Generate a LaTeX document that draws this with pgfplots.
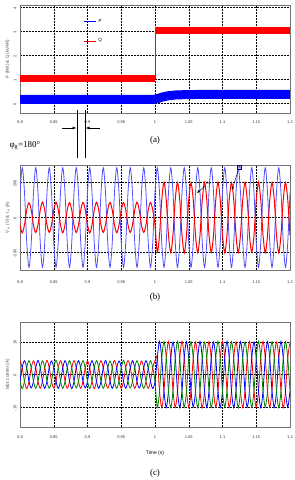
\documentclass[border=0pt]{standalone}
\usepackage{pgfplots}
\pgfplotsset{compat=1.18}
\usepackage{pgfplotstable}
\usepackage{fontspec}
\setmainfont{Liberation Serif}
\newfontfamily\sansf{Liberation Sans}
\usetikzlibrary{arrows.meta}
\definecolor{vblue}{RGB}{80,80,255}
\definecolor{pgreen}{RGB}{0,130,0}

% k: sample index (t = 0.8 + k/300 s)
\pgfplotstableread{
k v i ia ib ic
0 142.5 -43 4.2 -2.1 -2.1
1 285 -88 2.1 2.3 -4.3
2 142.5 -41 -2.2 4.2 -2.0
3 -142.5 45 -4.3 2.0 2.2
4 -285 84 -2.1 -2.2 4.2
5 -142.5 43 2.2 -4.1 2.0
6 142.5 -45 4.1 -2.1 -2.2
7 285 -86 2.0 2.1 -4.2
8 142.5 -42 -2.1 4.3 -2.1
9 -142.5 43 -4.2 2.1 2.0
10 -285 88 -2.0 -2.1 4.1
11 -142.5 41 2.1 -4.2 2.2
12 142.5 -43 4.3 -2.0 -2.1
13 285 -85 2.1 2.1 -4.2
14 142.5 -44 -2.1 4.1 -2.1
15 -142.5 42 -4.1 2.2 2.1
16 -285 87 -2.2 -2.1 4.3
17 -142.5 44 2.1 -4.2 2.1
18 142.5 -42 4.2 -2.1 -2.0
19 285 -87 2.2 2.0 -4.2
20 142.5 -43 -2.0 4.2 -2.2
21 -142.5 44 -4.2 2.1 2.1
22 -285 85 -2.1 -2.0 4.2
23 -142.5 42 2.0 -4.3 2.1
24 142.5 -44 4.2 -2.2 -2.1
25 285 -86 2.1 2.1 -4.1
26 142.5 -43 -2.2 4.2 -2.1
27 -142.5 43 -4.2 2.0 2.2
28 -285 86 -2.1 -2.1 4.2
29 -142.5 45 2.1 -4.1 2.0
30 142.5 -41 4.1 -2.1 -2.1
31 285 -88 2.1 2.2 -4.3
32 142.5 -43 -2.1 4.2 -2.0
33 -142.5 42 -4.3 2.1 2.1
34 -285 87 -2.0 -2.1 4.2
35 -142.5 43 2.2 -4.2 2.1
36 142.5 -44 4.2 -2.1 -2.1
37 285 -85 2.1 2.0 -4.2
38 142.5 -42 -2.1 4.3 -2.2
39 -142.5 44 -4.1 2.1 2.0
40 -285 86 -2.2 -2.0 4.1
41 -142.5 42 2.1 -4.2 2.1
42 142.5 -43 4.3 -2.1 -2.1
43 285 -87 2.0 2.1 -4.2
44 142.5 -44 -2.1 4.1 -2.0
45 -142.5 43 -4.2 2.2 2.1
46 -285 85 -2.1 -2.1 4.3
47 -142.5 44 2.1 -4.2 2.2
48 142.5 -42 4.2 -2.0 -2.1
49 285 -86 2.2 2.1 -4.1
50 142.5 -43 -2.0 4.2 -2.1
51 -142.5 42 -4.2 2.1 2.1
52 -285 88 -2.1 -2.2 4.2
53 -142.5 43 2.0 -4.1 2.0
54 142.5 -45 4.1 -2.1 -2.2
55 285 -85 2.1 2.1 -4.2
56 142.5 -42 -2.2 4.2 -2.1
57 -142.5 44 -4.2 2.0 2.1
58 -285 86 -2.1 -2.1 4.2
59 -142.5 43 2.1 -4.3 2.1
60 142.5 -43 4.2 -2.1 -2.1
61 285 -198 5.1 4.9 -10.0
62 142.5 -102 -5.0 10.1 -5.1
63 -142.5 99 -10.1 5.0 5.0
64 -285 201 -4.9 -5.1 10.0
65 -142.5 100 5.0 -10.0 5.1
66 142.5 -101 10.0 -4.9 -5.0
67 285 -199 5.1 5.0 -10.1
68 142.5 -98 -5.0 9.9 -5.0
69 -142.5 102 -10.0 5.1 4.9
70 -285 200 -5.1 -5.0 10.1
71 -142.5 99 4.9 -10.1 5.0
72 142.5 -100 10.1 -5.0 -5.1
73 285 -202 5.0 5.1 -9.9
74 142.5 -99 -4.9 10.0 -5.0
75 -142.5 101 -10.0 4.9 5.1
76 -285 198 -5.0 -5.0 10.0
77 -142.5 100 5.1 -9.9 4.9
78 142.5 -102 9.9 -5.1 -5.0
79 285 -200 5.0 5.0 -10.1
80 142.5 -100 -5.1 10.1 -5.0
81 -142.5 99 -10.1 5.0 5.0
82 -285 201 -5.0 -4.9 9.9
83 -142.5 101 5.0 -10.0 5.1
84 142.5 -99 10.0 -5.0 -4.9
85 285 -199 4.9 5.1 -10.0
86 142.5 -101 -5.0 9.9 -5.1
87 -142.5 100 -9.9 5.0 5.0
88 -285 202 -5.1 -5.1 10.1
89 -142.5 98 5.0 -10.0 5.0
90 142.5 -100 10.1 -4.9 -5.1
91 285 -201 5.0 5.0 -9.9
92 142.5 -99 -4.9 10.1 -5.0
93 -142.5 102 -10.0 5.1 4.9
94 -285 199 -5.0 -5.0 10.0
95 -142.5 100 5.1 -10.1 5.0
96 142.5 -101 9.9 -5.0 -5.0
97 285 -200 5.0 4.9 -10.1
98 142.5 -98 -5.1 10.0 -5.0
99 -142.5 101 -10.1 5.0 5.1
100 -285 200 -4.9 -5.1 9.9
101 -142.5 99 5.0 -9.9 5.0
102 142.5 -102 10.0 -5.0 -5.1
103 285 -198 5.1 5.1 -10.0
104 142.5 -100 -5.0 9.9 -4.9
105 -142.5 100 -9.9 5.0 5.0
106 -285 202 -5.0 -4.9 10.1
107 -142.5 101 4.9 -10.1 5.1
108 142.5 -99 10.1 -5.1 -5.0
109 285 -201 5.0 5.0 -9.9
110 142.5 -101 -5.1 10.0 -5.0
111 -142.5 98 -10.0 4.9 5.0
112 -285 199 -4.9 -5.0 10.0
113 -142.5 102 5.0 -10.0 5.1
114 142.5 -100 9.9 -5.1 -4.9
115 285 -200 5.1 5.0 -10.1
116 142.5 -99 -5.0 10.1 -5.0
117 -142.5 101 -10.1 5.0 4.9
118 -285 200 -5.0 -5.1 10.0
119 -142.5 100 5.0 -9.9 5.0
120 142.5 -101 10.0 -5.0 -5.0
}\wave

\pgfplotsset{
  panel/.style={
    scale only axis, width=270bp, anchor=south west,
    axis line style={black!55, line width=0.9bp},
    grid=major,
    grid style={black, line width=0.35bp, dash pattern=on 1.5bp off 1.5bp},
    tick label style={font=\sansf\fontsize{4}{4}\selectfont, black!80},
    /pgf/number format/assume math mode=true,
    yticklabel style={rotate=90, anchor=south, xshift=-1bp},
    ylabel style={font=\sansf\fontsize{4.5}{5}\selectfont, black!70},
    major tick length=0bp,
    xticklabels={0.8,0.85,0.9,0.95,1,1.05,1.1,1.15,1.2},
  }
}

\begin{document}
\begin{tikzpicture}
\useasboundingbox (0,0) rectangle (295bp,480bp);

% ---------- (a) ----------
\begin{axis}[panel, at={(20bp,367bp)}, height=108bp,
  xmin=0.8, xmax=1.2, xtick={0.8,0.85,0.9,0.95,1,1.05,1.1,1.15,1.2},
  xticklabel style={yshift=-4bp},
  ymin=-0.42, ymax=4.08, ytick={0,1,2,3,4},
  ylabel={P (kW) \& Q (kVAR)}, ylabel style={yshift=-3bp},
  legend style={draw=none, fill=none, at={(0.235,0.89)}, anchor=north west,
    font=\sansf\fontsize{4.5}{5}\selectfont, row sep=11bp, inner sep=0pt},
]
\addlegendimage{legend image code/.code={\draw[blue, line width=0.7bp] (0bp,0bp) -- (12bp,0bp);}}
\addlegendentry{P}
\addlegendimage{legend image code/.code={\draw[red, line width=0.7bp] (0bp,0bp) -- (12bp,0bp);}}
\addlegendentry{Q}
\addplot[red, line width=7bp, forget plot] coordinates {(0.8,1.0) (1.0,1.0)};
\addplot[red, line width=7bp, forget plot] coordinates {(1.0,3.0) (1.2,3.0)};
\addplot[red, line width=0.5bp, forget plot] coordinates {(1.0,1.0) (1.0,3.0)};
\addplot[blue, line width=9bp, forget plot] coordinates {(0.8,0.15) (1.0,0.15) (1.005,0.19) (1.01,0.24) (1.02,0.3) (1.03,0.33) (1.05,0.35) (1.2,0.36)};
\end{axis}

% ---------- (b) ----------
\begin{axis}[panel, at={(20bp,210bp)}, height=105bp,
  xmin=0, xmax=120, xtick={0,15,...,120},
  xticklabel style={yshift=-7bp},
  ymin=-300, ymax=300, ytick={-200,0,200},
  ylabel={V$_{s}$ (V) \& I$_{s}$ (A)}, ylabel style={yshift=-3bp},
]
\addplot[vblue, line width=0.8bp, smooth] table[x=k, y=v] {\wave};
\addplot[red, line width=1bp, smooth] table[x=k, y=i] {\wave};
\end{axis}

% ---------- (c) ----------
\begin{axis}[panel, at={(20bp,53bp)}, height=105bp,
  xmin=0, xmax=120, xtick={0,15,...,120},
  xticklabel style={yshift=-5bp},
  ymin=-16, ymax=16, ytick={-10,0,10},
  ylabel={Iabc current (A)}, ylabel style={yshift=-3bp},
]
\addplot[red, line width=0.8bp, smooth] table[x=k, y=ia] {\wave};
\addplot[blue, line width=0.8bp, smooth] table[x=k, y=ib] {\wave};
\addplot[pgreen, line width=0.8bp, smooth] table[x=k, y=ic] {\wave};
\end{axis}

% annotations
\draw[line width=0.6bp] (77bp,370bp) -- (77bp,322bp);
\draw[line width=0.6bp] (85bp,370bp) -- (85bp,322bp);
\draw[-{Latex[length=4bp,width=3bp]}, line width=0.6bp] (62bp,352bp) -- (76.5bp,352bp);
\draw[-{Latex[length=4bp,width=3bp]}, line width=0.6bp] (100bp,352bp) -- (85.5bp,352bp);
\node[anchor=west, font=\fontsize{9}{10}\selectfont] at (6bp,334bp) {φ\textsubscript{g}=180°};

\node[font=\sansf\fontsize{4}{4}\selectfont] at (208bp,297bp) {Vs};
\draw[-{Latex[length=3bp,width=2.5bp]}, line width=0.4bp] (205bp,294bp) -- (197bp,287bp);
\node[font=\sansf\fontsize{4}{4}\selectfont, fill=blue!25, draw=blue!60!black, inner sep=0.6bp, line width=0.3bp] at (239bp,313bp) {Is};
\draw[-{Latex[length=3bp,width=2.5bp]}, line width=0.4bp] (238bp,309bp) -- (232bp,290bp);

\node[font=\fontsize{9}{10}\selectfont] at (155bp,340bp) {(a)};
\node[font=\fontsize{9}{10}\selectfont] at (155bp,183bp) {(b)};
\node[font=\sansf\fontsize{5}{5}\selectfont] at (155bp,27bp) {Time (s)};
\node[font=\fontsize{9}{10}\selectfont] at (155bp,7bp) {(c)};
\end{tikzpicture}
\end{document}
